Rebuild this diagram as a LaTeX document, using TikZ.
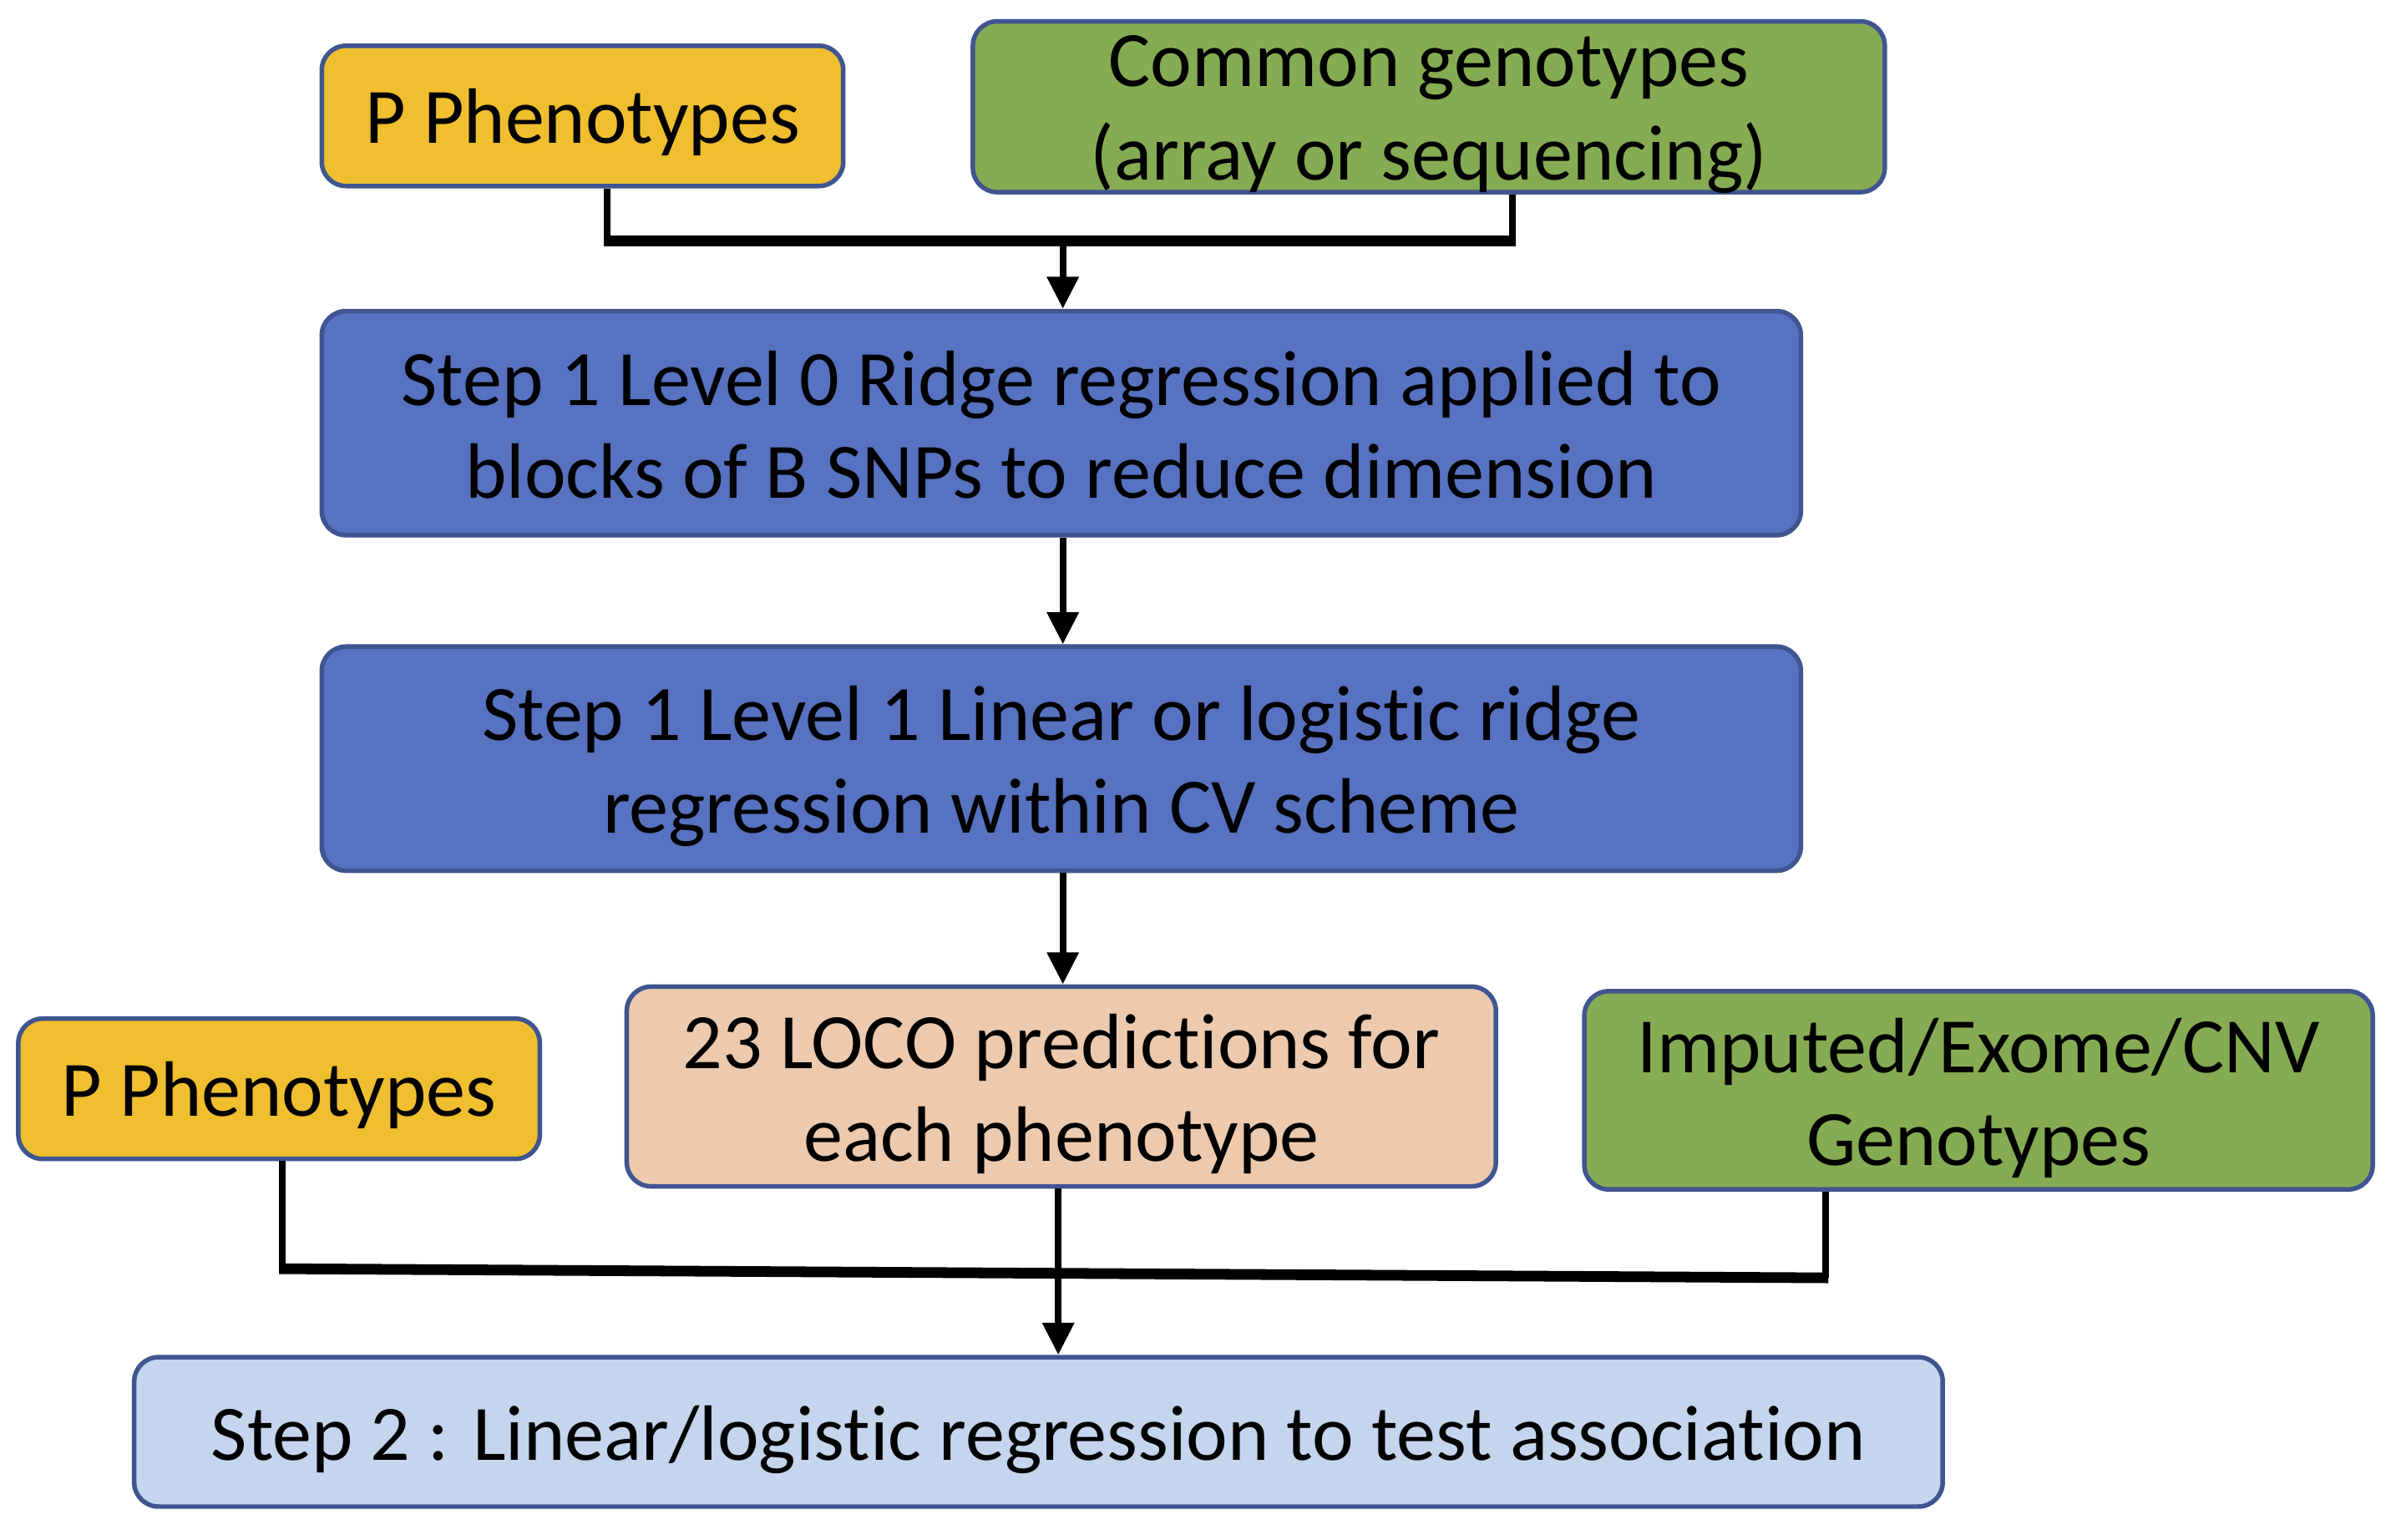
\documentclass[tikz,border=0pt]{standalone}
\usepackage{fontspec}
\setmainfont{Carlito}[Ligatures=NoCommon]
\usetikzlibrary{arrows.meta}
\definecolor{cYel}{HTML}{F0BF2F}
\definecolor{cGrn}{HTML}{86AC53}
\definecolor{cBlu}{HTML}{5672C0}
\definecolor{cPea}{HTML}{EDCAAE}
\definecolor{cLbl}{HTML}{C4D5ED}
\definecolor{cBrd}{HTML}{3F5590}
\begin{document}
\begin{tikzpicture}[x=1pt,y=-1pt,
  box/.style={draw=cBrd,line width=3pt,rounded corners=16pt,inner sep=0pt},
  txt/.style={align=center,inner sep=0pt,font=\fontsize{51.5}{61}\selectfont},
  conn/.style={line width=4.5pt},
  bar/.style={line width=7pt},
  arr/.style={line width=4.5pt,-{Triangle[width=20pt,length=21pt]}}]
\useasboundingbox (0,0) rectangle (1568,1009.4);
\node[box,fill=cYel,minimum width=342pt,minimum height=92pt] (pp1) at (382,76) {};
\node[box,fill=cGrn,minimum width=598pt,minimum height=112pt] (cg) at (937,70) {};
\node[box,fill=cBlu,minimum width=970pt,minimum height=147pt] (s0) at (696,277.5) {};
\node[box,fill=cBlu,minimum width=970pt,minimum height=147pt] (s1) at (696,497.5) {};
\node[box,fill=cPea,minimum width=570pt,minimum height=131pt] (loco) at (696,712.5) {};
\node[box,fill=cYel,minimum width=342pt,minimum height=92pt] (pp2) at (183,714) {};
\node[box,fill=cGrn,minimum width=517pt,minimum height=130pt] (imp) at (1297.5,715) {};
\node[box,fill=cLbl,minimum width=1186pt,minimum height=98pt] (s2) at (681,939) {};
\node[txt] (pp1t) at ([yshift=-4pt]pp1.center) {P Phenotypes};
\node[txt] (cgt) at ([yshift=-5pt]cg.center) {Common genotypes\\(array or sequencing)};
\node[txt] (s0t) at ([yshift=-1pt]s0.center) {Step 1 Level 0 Ridge regression applied to\\blocks of B SNPs to reduce dimension};
\node[txt] (s1t) at ([yshift=-5pt]s1.center) {Step 1 Level 1 Linear or logistic ridge\\regression within CV scheme};
\node[txt] (locot) at ([yshift=-5pt]loco.center) {23 LOCO predictions for\\each phenotype};
\node[txt] (pp2t) at ([yshift=-4pt]pp2.center) {P Phenotypes};
\node[txt] (impt) at ([yshift=-5pt]imp.center) {Imputed/Exome/CNV\\Genotypes};
\node[txt] (s2t) at ([yshift=-5pt]s2.center) {Step 2 : Linear/logistic regression to test association};
% top merge
\coordinate (a1) at (398,158);
\coordinate (a2) at (992,158);
\coordinate (am) at (697,158);
\draw[conn] (pp1.south -| a1) -- (a1);
\draw[conn] (cg.south -| a2) -- (a2);
\draw[bar] ([xshift=-2pt]a1) -- ([xshift=2pt]a2);
\draw[arr] (am) -- (am |- s0.north);
\draw[arr] (s0.south -| am) -- (s1.north -| am);
\draw[arr] (s1.south -| am) -- (loco.north -| am);
% bottom merge
\coordinate (b1) at (185,832);
\coordinate (b2) at (1197,838);
\draw[conn] (pp2.south -| b1) -- (b1);
\draw[conn] (imp.south -| b2) -- (b2);
\draw[bar] ([xshift=-2pt]b1) -- ([xshift=2pt]b2);
\coordinate (bm) at (694,835);
\draw[arr] (loco.south -| bm) -- (s2.north -| bm);
\end{tikzpicture}
\end{document}
